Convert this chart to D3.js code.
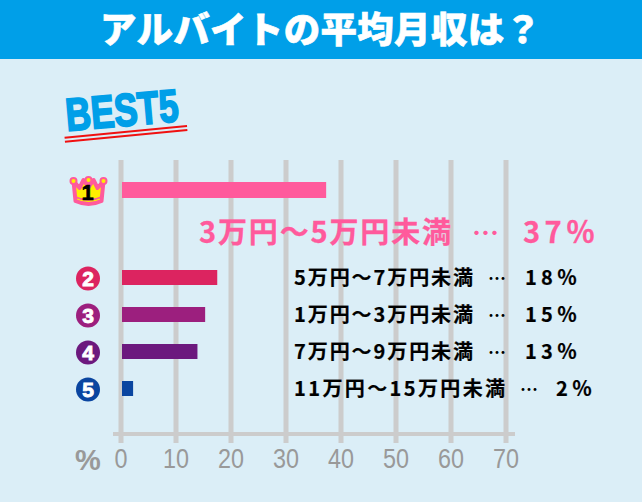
<!DOCTYPE html>
<html><head><meta charset="utf-8">
<script src="https://cdn.jsdelivr.net/npm/d3@7/dist/d3.min.js"></script>
<style>html,body{margin:0;padding:0;background:#dbeef7}svg{display:block;font-family:"Noto Sans CJK JP","Noto Sans",sans-serif}</style>
</head><body><svg id="c" width="642" height="502"></svg>
<script>
const title = "アルバイトの平均月収は？";
const ranks = [1, 2, 3, 4, 5];
const categories = ["3万円～5万円未満","5万円～7万円未満","1万円～3万円未満","7万円～9万円未満","11万円～15万円未満"];
const percents = [37, 18, 15, 13, 2];
const barValues = [37.3, 17.5, 15.3, 13.9, 2.2];
const colors = ["#ff5a9c","#dc2460","#9c1f7e","#6c197e","#0a45a0"];
const ticks = [0,10,20,30,40,50,60,70];

const svg = d3.select("#c");
const x = d3.scaleLinear().domain([0,70]).range([121,506]);
const yPos = d3.scaleOrdinal().domain(ranks).range([190,277.5,314.5,351.5,388.5]);
const barH = d3.scaleOrdinal().domain(ranks).range([16,15,15,15,15]);

svg.append("rect").attr("width",642).attr("height",502).attr("fill","#dbeef7");
svg.append("rect").attr("width",642).attr("height",59).attr("fill","#009fe8");
svg.append("text").attr("x",100).attr("y",43).attr("fill","#fff")
  .attr("font-size",36.5).attr("font-weight",900).attr("stroke","#fff").attr("stroke-width",0.6)
  .attr("textLength",441).attr("lengthAdjust","spacing").text(title);

// BEST5 heading
const best = svg.append("g").attr("transform","translate(67,131) rotate(-5)");
best.append("text").attr("x",0).attr("y",0).attr("fill","#009fe8").attr("font-size",46)
  .attr("font-family","'Liberation Sans',sans-serif").attr("font-weight",700)
  .attr("stroke","#009fe8").attr("stroke-width",2).attr("textLength",113).attr("lengthAdjust","spacingAndGlyphs").text("BEST5");
[6,10].forEach(dy=>best.append("line").attr("x1",-3).attr("x2",120).attr("y1",dy+0.5).attr("y2",dy-0.5)
  .attr("stroke","#f01010").attr("stroke-width",2));

// grid and axes
svg.append("g").selectAll("rect").data(ticks).join("rect")
  .attr("x",d=>x(d)-2.5).attr("y",160).attr("width",5).attr("height",283).attr("fill","#cccccc");
svg.append("rect").attr("x",113).attr("y",432).attr("width",402).attr("height",4).attr("fill","#cccccc");
svg.append("g").selectAll("text").data(ticks).join("text")
  .attr("x",d=>x(d)).attr("y",468).attr("text-anchor","middle").attr("fill","#999999")
  .attr("font-size",27).attr("font-family","'Liberation Sans',sans-serif").attr("textLength",d=>d===0?13:26)
  .attr("lengthAdjust","spacingAndGlyphs").text(d=>d);
svg.append("text").attr("x",88).attr("y",470).attr("text-anchor","middle").attr("fill","#999999")
  .attr("font-size",29).attr("font-weight",700).attr("font-family","'Liberation Sans',sans-serif").text("%");

// bars
svg.append("g").selectAll("rect").data(ranks).join("rect")
  .attr("x",x(0)+1).attr("y",d=>yPos(d)-barH(d)/2)
  .attr("width",(d,i)=>x(barValues[i])-x(0)-1).attr("height",d=>barH(d))
  .attr("fill",(d,i)=>colors[i]);

// crown
const cy = yPos(1);
const crown = svg.append("g").attr("transform",`translate(88.5,${cy})`);
const crownPath = "M-15,-9 L-9,-2 L-5,-10 L0,-3 L5,-10 L9,-2 L15,-9 L13,11 Q0,17 -13,11 Z";
crown.append("path").attr("d",crownPath).attr("fill","#ffee00").attr("stroke","#ff5a9c").attr("stroke-width",4).attr("stroke-linejoin","round");
[[-15,-9],[0,-10],[15,-9]].forEach(p=>crown.append("circle").attr("cx",p[0]).attr("cy",p[1]).attr("r",3).attr("fill","#ffee00").attr("stroke","#ff5a9c").attr("stroke-width",2));
crown.append("path").attr("d","M-13,7 Q0,13 13,7").attr("fill","none").attr("stroke","#ff5a9c").attr("stroke-width",1.5);
crown.append("text").attr("x",-1).attr("y",10).attr("text-anchor","middle").attr("font-size",22).attr("font-weight",900)
  .attr("font-family","'Liberation Sans',sans-serif").attr("fill","#000").attr("stroke","#000").attr("stroke-width",0.6).text(ranks[0]);

// rank badges
const badges = svg.append("g").selectAll("g").data(ranks.slice(1)).join("g")
  .attr("transform",d=>`translate(88,${yPos(d)+1})`);
badges.append("circle").attr("r",12).attr("fill",(d,i)=>colors[i+1]);
badges.append("text").attr("y",7.5).attr("text-anchor","middle").attr("fill","#fff").attr("font-size",21).attr("font-weight",700)
  .attr("stroke","#fff").attr("stroke-width",0.9).attr("font-family","'Liberation Sans',sans-serif").text(d=>d);

// labels
const big = colors[0];
svg.append("text").attr("x",199).attr("y",243).attr("fill",big).attr("font-size",29).attr("font-weight",700)
  .attr("stroke",big).attr("stroke-width",0.3)
  .attr("textLength",252).attr("lengthAdjust","spacing").text(categories[0]);
svg.append("text").attr("x",472).attr("y",243).attr("fill",big).attr("font-size",27).attr("font-weight",700).text("…");
svg.append("text").attr("x",523).attr("y",243).attr("fill",big).attr("font-size",29).attr("font-weight",700)
  .attr("stroke",big).attr("stroke-width",0.3)
  .attr("textLength",72).attr("lengthAdjust","spacing").text(percents[0]+"％");

const rowY = [284.5,321.5,358.5,395.5];
const rows = svg.append("g").selectAll("g").data(ranks.slice(1)).join("g");
rows.append("text").attr("x",294).attr("y",(d,i)=>rowY[i]).attr("fill","#000").attr("font-size",20).attr("font-weight",700)
  .attr("stroke","#000").attr("stroke-width",0.2)
  .attr("textLength",(d,i)=>i===3?211:179).attr("lengthAdjust","spacing").text((d,i)=>categories[i+1]);
rows.append("text").attr("x",(d,i)=>i===3?520:488).attr("y",(d,i)=>rowY[i]).attr("fill","#000").attr("font-size",18).attr("font-weight",700).text("…");
rows.append("text").attr("x",(d,i)=>i===3?556:525).attr("y",(d,i)=>rowY[i]).attr("fill","#000").attr("font-size",20).attr("font-weight",700)
  .attr("stroke","#000").attr("stroke-width",0.2)
  .attr("textLength",(d,i)=>i===3?36:52).attr("lengthAdjust","spacing").text((d,i)=>percents[i+1]+"％");
</script></body></html>
